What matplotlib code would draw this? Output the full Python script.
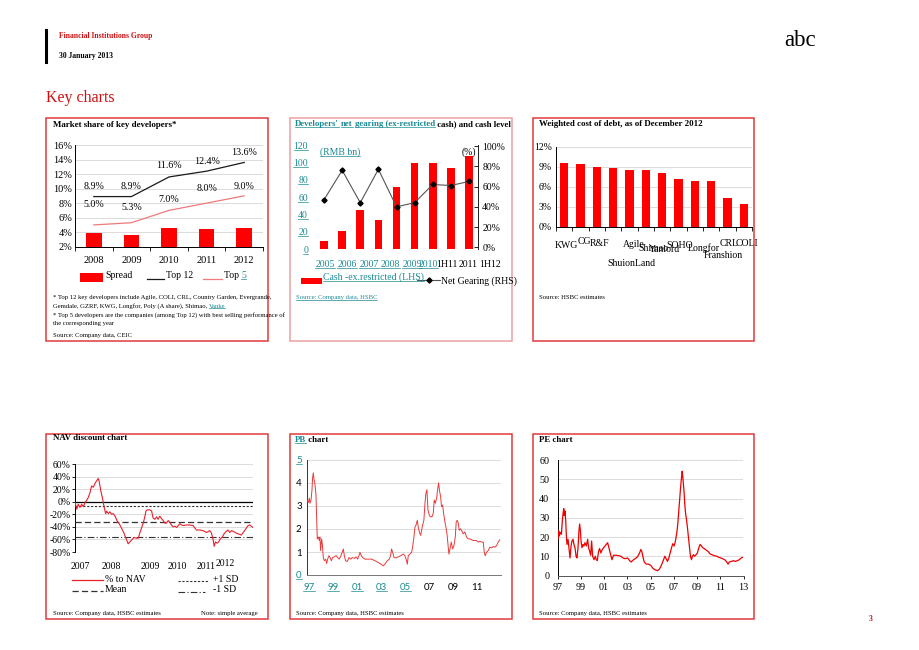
import numpy as np
import matplotlib
matplotlib.use('Agg')
import matplotlib.pyplot as plt
from matplotlib.lines import Line2D
from matplotlib.patches import Rectangle
from matplotlib import transforms

# ---------------- data ----------------
ms_years = ['2008', '2009', '2010', '2011', '2012']
ms_spread = [3.9, 3.6, 4.6, 4.4, 4.6]
ms_top12 = [8.9, 8.9, 11.6, 12.4, 13.6]
ms_top5 = [5.0, 5.3, 7.0, 8.0, 9.0]

ng_periods = ['2005', '2006', '2007', '2008', '2009', '2010', '1H11', '2011', '1H12']
ng_cash = [10, 21, 45, 34, 72, 100, 100, 94, 108]
ng_gearing = [47, 76, 44, 77, 40, 44, 62, 61, 65]

cd_companies = ['KWG', 'CG', 'R&F', 'ShuionLand', 'Agile', 'Shimao', 'Yanlord',
                'SOHO', 'Longfor', 'Franshion', 'CRL', 'COLI']
cd_values = [9.5, 9.35, 8.95, 8.8, 8.5, 8.5, 8.1, 7.2, 6.8, 6.8, 4.3, 3.35]

nav_month = [0, 0.7, 1.3, 2.0, 2.7, 3.4, 4.0, 4.7, 5.4, 6.1, 6.7, 7.4, 8.1, 8.7, 9.4, 9.8,
             10.4, 11.2, 11.8, 12.4, 12.8, 13.5, 14.1, 14.8, 15.5, 16.2, 17.1, 17.9, 18.8,
             19.8, 20.6, 21.5, 22.2, 22.9, 23.8, 24.9, 25.6, 26.2, 26.9, 27.6, 28.3, 28.7,
             29.2, 30.3, 31.0, 31.6, 32.3, 33.0, 33.6, 34.3, 35.0, 35.7, 36.3, 37.0, 37.7,
             38.4, 39.0, 39.7, 40.4, 41.1, 41.7, 42.4, 43.1, 43.7, 45.1, 46.4, 47.8, 48.5,
             49.1, 50.5, 51.8, 53.2, 54.5, 55.2, 55.9, 56.3, 56.8, 57.5, 58.1, 58.8, 59.6,
             60.3, 61.2, 61.9, 62.6, 63.3, 63.9, 65.3, 66.6, 67.3, 68.0, 68.6, 69.3, 70.0,
             70.7, 71.3, 72.0]
nav_pct = [-1, -12, -4, -9, -4, -8, -2, 2, 7, 15, 25, 23, 29, 33, 37, 32,
           18, 4, -9, -19, -15, -19, -16, -20, -19, -23, -31, -35, -42,
           -50, -58, -67, -64, -61, -57, -58, -58, -50, -42, -34, -23, -15,
           -13, -13, -15, -26, -28, -24, -28, -23, -27, -30, -34, -34, -30,
           -33, -37, -40, -39, -41, -38, -35, -37, -38, -37, -37, -38, -42,
           -45, -45, -46, -49, -46, -50, -61, -71, -64, -66, -64, -59, -56,
           -51, -47, -45, -49, -46, -47, -50, -52, -53, -49, -46, -42, -38,
           -37, -39, -41]
nav_mean = -32
nav_plus_sd = -7.5
nav_minus_sd = -56.5
nav_tick_labels = ['2007', '2008', '2009', '2010', '2011', '2012']
nav_tick_month = [2.0, 14.8, 30.3, 41.3, 52.9, 60.6]

pb_year = [1996.86, 1996.94, 1997.03, 1997.08, 1997.17, 1997.25, 1997.30, 1997.36, 1997.42,
           1997.50, 1997.58, 1997.64, 1997.69, 1997.78, 1997.86, 1997.91, 1997.97, 1998.05,
           1998.11, 1998.19, 1998.28, 1998.39, 1998.47, 1998.55, 1998.66, 1998.75, 1998.86,
           1998.97, 1999.11, 1999.25, 1999.38, 1999.52, 1999.66, 1999.77, 1999.86, 1999.94,
           2000.05, 2000.19, 2000.33, 2000.47, 2000.60, 2000.77, 2000.91, 2001.05, 2001.16,
           2001.24, 2001.35, 2001.46, 2001.66, 2001.93, 2002.21, 2002.49, 2002.77, 2002.99,
           2003.18, 2003.32, 2003.51, 2003.68, 2003.79, 2003.87, 2003.96, 2004.07, 2004.23,
           2004.43, 2004.65, 2004.84, 2004.98, 2005.12, 2005.18, 2005.26, 2005.40, 2005.54,
           2005.62, 2005.73, 2005.82, 2005.90, 2006.01, 2006.09, 2006.18, 2006.29, 2006.37,
           2006.45, 2006.56, 2006.65, 2006.73, 2006.81, 2006.90, 2007.01, 2007.12, 2007.23,
           2007.34, 2007.42, 2007.51, 2007.62, 2007.70, 2007.78, 2007.87, 2007.95, 2008.03,
           2008.12, 2008.20, 2008.31, 2008.39, 2008.48, 2008.56, 2008.64, 2008.73, 2008.84,
           2008.95, 2009.06, 2009.17, 2009.25, 2009.34, 2009.42, 2009.50, 2009.61, 2009.72,
           2009.83, 2009.97, 2010.11, 2010.25, 2010.39, 2010.53, 2010.67, 2010.81, 2010.94,
           2011.08, 2011.22, 2011.36, 2011.50, 2011.58, 2011.66, 2011.77, 2011.91, 2012.05,
           2012.19, 2012.33, 2012.47, 2012.61, 2012.74, 2012.88]
pb_value = [3.26, 3.15, 3.34, 3.12, 3.26, 3.70, 4.22, 4.44, 4.15,
            3.93, 3.49, 2.38, 1.57, 1.65, 1.50, 1.65, 1.06, 1.57,
            1.35, 0.76, 0.62, 0.69, 0.50, 0.69, 0.84, 0.76, 0.62,
            0.76, 0.79, 0.84, 0.76, 0.69, 0.84, 0.99, 1.13, 0.84,
            0.62, 0.59, 0.76, 0.69, 0.76, 0.72, 0.79, 0.69, 0.84,
            0.99, 0.84, 0.76, 0.69, 0.69, 0.69, 0.62, 0.54, 0.47,
            0.40, 0.47, 0.62, 0.69, 0.84, 1.13, 0.99, 0.76, 0.74,
            0.79, 0.84, 0.91, 0.84, 0.62, 0.47, 0.84, 0.91, 0.99,
            1.21, 1.65, 2.09, 2.16, 2.38, 2.09, 1.87, 1.72, 1.94,
            2.16, 2.38, 3.12, 3.56, 3.71, 2.82, 2.60, 2.53, 2.53,
            2.68, 3.26, 3.12, 3.34, 3.71, 4.00, 3.63, 3.41, 2.97,
            3.04, 2.68, 2.31, 2.09, 1.79, 1.35, 0.91, 1.13, 1.43,
            1.13, 1.28, 1.65, 2.31, 2.38, 2.25, 1.94, 2.01, 1.91,
            1.79, 1.87, 1.65, 1.57, 1.57, 1.53, 1.50, 1.50, 1.50,
            1.43, 1.47, 1.43, 1.43, 0.99, 0.84, 0.99, 1.06, 1.21,
            1.18, 1.24, 1.21, 1.28, 1.43, 1.53]
pb_tick_labels = ['97', '99', '01', '03', '05', '07', '09', '11']
pb_tick_years = [1997, 1999, 2001, 2003, 2005, 2007, 2009, 2011]

pe_year = [1997.03, 1997.09, 1997.14, 1997.23, 1997.32, 1997.40, 1997.46, 1997.52, 1997.57,
           1997.63, 1997.69, 1997.74, 1997.80, 1997.89, 1997.97, 1998.06, 1998.15, 1998.23,
           1998.32, 1998.40, 1998.49, 1998.58, 1998.66, 1998.75, 1998.83, 1998.89, 1998.95,
           1999.01, 1999.09, 1999.18, 1999.26, 1999.35, 1999.46, 1999.58, 1999.66, 1999.75,
           1999.84, 1999.92, 2000.01, 2000.12, 2000.24, 2000.32, 2000.41, 2000.52, 2000.61,
           2000.72, 2000.84, 2000.95, 2001.07, 2001.18, 2001.30, 2001.41, 2001.53, 2001.67,
           2001.81, 2002.04, 2002.24, 2002.44, 2002.62, 2002.82, 2003.02, 2003.19, 2003.33,
           2003.53, 2003.76, 2003.90, 2004.05, 2004.16, 2004.25, 2004.33, 2004.45, 2004.62,
           2004.82, 2005.02, 2005.19, 2005.39, 2005.60, 2005.77, 2005.88, 2006.00, 2006.11,
           2006.23, 2006.34, 2006.45, 2006.57, 2006.68, 2006.80, 2006.91, 2007.03, 2007.14,
           2007.26, 2007.34, 2007.43, 2007.49, 2007.54, 2007.60, 2007.66, 2007.72, 2007.77,
           2007.83, 2007.89, 2007.94, 2008.00, 2008.06, 2008.12, 2008.17, 2008.26, 2008.35,
           2008.43, 2008.52, 2008.60, 2008.69, 2008.80, 2008.92, 2009.03, 2009.15, 2009.26,
           2009.38, 2009.49, 2009.61, 2009.72, 2009.84, 2009.98, 2010.12, 2010.27, 2010.47,
           2010.70, 2010.87, 2011.04, 2011.21, 2011.38, 2011.56, 2011.67, 2011.78, 2011.96,
           2012.13, 2012.30, 2012.47, 2012.64, 2012.81, 2012.93]
pe_value = [18.9, 23.3, 20.6, 22.4, 21.5, 28.6, 32.1, 34.8, 31.2,
            33.5, 28.6, 21.5, 16.2, 18.9, 14.5, 9.2, 15.4, 18.0,
            18.9, 16.2, 14.5, 10.1, 9.2, 14.5, 23.3, 26.8, 23.6,
            18.0, 14.5, 16.2, 15.4, 17.1, 15.4, 18.9, 14.5, 12.7,
            10.6, 18.0, 10.1, 8.3, 10.1, 8.3, 7.8, 12.7, 14.1,
            11.8, 13.6, 14.5, 15.4, 16.2, 17.1, 14.5, 11.8, 8.3,
            10.6, 10.6, 10.4, 10.1, 9.2, 8.8, 9.2, 7.8, 7.1,
            8.3, 9.2, 10.1, 11.8, 13.6, 12.4, 10.1, 7.1, 6.0,
            6.0, 5.3, 3.9, 3.0, 2.6, 3.5, 4.8, 6.5, 8.3,
            10.1, 8.8, 7.4, 9.2, 11.8, 14.5, 16.6, 15.4, 18.0,
            22.4, 26.8, 33.9, 39.2, 42.7, 47.1, 50.6, 54.2, 51.5,
            47.1, 42.7, 37.4, 33.0, 30.4, 27.7, 25.1, 19.8, 14.5,
            10.1, 8.3, 10.1, 10.9, 10.1, 10.9, 11.8, 14.5, 16.2,
            15.4, 14.5, 14.1, 13.6, 13.1, 12.4, 11.3, 10.9, 10.4,
            10.1, 9.5, 9.2, 8.8, 8.3, 7.1, 6.0, 7.1, 7.4,
            7.8, 7.4, 7.8, 8.3, 9.2, 9.5]
pe_tick_labels = ['97', '99', '01', '03', '05', '07', '09', '11', '13']
pe_tick_years = [1997, 1999, 2001, 2003, 2005, 2007, 2009, 2011, 2013]

# ---------------- styling ----------------
W, H = 920, 650
SERIF = 'Liberation Serif'
SANS = 'Lato'
RED = '#ff0000'
TEAL = '#1b8a93'
BORDER = '#e03a3a'
BORDER_LIGHT = '#eaa0a0'
GRID = '#d6d6d6'
TITLE_SIZE = 6.4
NOTE_SIZE = 4.75

plt.rcParams['font.family'] = SERIF
plt.rcParams['axes.linewidth'] = 0.7

fig = plt.figure(figsize=(9.2, 6.5), dpi=100)
renderer = fig.canvas.get_renderer()
underlines = []


def add_ax(x0, y0, x1, y1):
    return fig.add_axes([x0 / W, 1 - y1 / H, (x1 - x0) / W, (y1 - y0) / H])


def frame(x0, y0, x1, y1, color=BORDER):
    fig.add_artist(Rectangle((x0 / W, 1 - y1 / H), (x1 - x0) / W, (y1 - y0) / H,
                             transform=fig.transFigure, fill=False,
                             edgecolor=color, lw=1.1))


def ftext(x, y, s, size, color='black', weight='normal', ha='left', va='center',
          ul=False, family=SERIF):
    t = fig.text(x / W, 1 - y / H, s, fontsize=size, color=color, weight=weight,
                 ha=ha, va=va, family=family)
    if ul:
        underlines.append((t, color))
    return t


def rich(x, y, pieces, size, weight='bold'):
    for s, color, ul in pieces:
        t = ftext(x, y, s, size, color, weight, ul=ul)
        bb = t.get_window_extent(renderer)
        x += bb.width


def fline(x0, x1, y, **kw):
    fig.add_artist(Line2D([x0 / W, x1 / W], [1 - y / H, 1 - y / H],
                          transform=fig.transFigure, **kw))


def fbox(x0, y0, x1, y1, color):
    fig.add_artist(Rectangle((x0 / W, 1 - y1 / H), (x1 - x0) / W, (y1 - y0) / H,
                             transform=fig.transFigure, facecolor=color, edgecolor='none'))


# ---------------- header ----------------
fig.add_artist(Line2D([46 / W, 46 / W], [1 - 30 / H, 1 - 62 / H], transform=fig.transFigure,
                      color='black', lw=2.2))
ftext(59, 36, 'Financial Institutions Group', 5.5, color='#d01010', weight='bold')
ftext(59, 56, '30 January 2013', 5.5, weight='bold')
ftext(46, 98, 'Key charts', 11.5, color='#d01010')
ftext(800, 40, 'abc', 16.5, ha='center')
ftext(871, 619, '3', 5.5, color='#d01010', weight='bold', ha='center')

# panel frames
frame(46.5, 117.5, 268.5, 341)
frame(290.5, 117.5, 512, 341, BORDER_LIGHT)
frame(533, 117.5, 754, 341)
frame(46.5, 433.5, 268.5, 619)
frame(290.5, 433.5, 512, 619)
frame(533, 433.5, 754, 619)

# ---------------- panel 1: market share ----------------
ftext(53, 125, 'Market share of key developers*', TITLE_SIZE, weight='bold')
ax1 = add_ax(75, 145, 263, 246.7)
x = np.arange(len(ms_years))
ax1.bar(x, ms_spread, width=0.42, color=RED, zorder=2)
ax1.plot(x, ms_top12, color='#1a1a1a', lw=0.9, zorder=3)
ax1.plot(x, ms_top5, color='#f07a7a', lw=0.9, zorder=3)
ax1.set_xlim(-0.5, len(ms_years) - 0.5)
ax1.set_ylim(2, 16)
ax1.set_yticks(range(2, 17, 2))
ax1.set_yticklabels([f'{v}%' for v in range(2, 17, 2)])
ax1.set_xticks(x)
ax1.set_xticklabels(ms_years)
ax1.set_xticks(np.arange(-0.5, len(ms_years)), minor=True)
ax1.tick_params(axis='x', which='major', length=0, labelsize=7.5, pad=7)
ax1.tick_params(axis='x', which='minor', length=3, direction='out', width=0.6)
ax1.tick_params(axis='y', length=0, labelsize=7.5, pad=2)
ax1.yaxis.grid(True, color=GRID, lw=0.6)
ax1.set_axisbelow(True)
for s in ['top', 'right']:
    ax1.spines[s].set_visible(False)
top12_dy = [10, 10, 11, 10, 10]
top5_dy = [20, 15, 11, 15, 9]
for i in range(len(ms_years)):
    ax1.annotate(f'{ms_top12[i]:.1f}%', (x[i], ms_top12[i]), xytext=(0, top12_dy[i] * 0.72),
                 textcoords='offset points', ha='center', va='center', fontsize=7.2)
    ax1.annotate(f'{ms_top5[i]:.1f}%', (x[i], ms_top5[i]), xytext=(0, top5_dy[i] * 0.72),
                 textcoords='offset points', ha='center', va='center', fontsize=7.2)
# legend
fbox(80, 273, 103, 282, RED)
ftext(105, 276, 'Spread', 7)
fline(147, 164, 279, color='#1a1a1a', lw=0.9)
ftext(166, 276, 'Top 12', 7)
fline(203, 222, 279, color='#f07a7a', lw=0.9)
rich(224, 276, [('Top ', 'black', False), ('5', TEAL, True)], 7, weight='normal')
# footnotes
ftext(53, 298, '* Top 12 key developers include Agile, COLI, CRL, Country Garden, Evergrande,', NOTE_SIZE)
rich(53, 306.5, [('Gemdale, GZRF, KWG, Longfor, Poly (A share), Shimao, ', 'black', False),
                 ('Vanke', TEAL, True)], NOTE_SIZE, weight='normal')
ftext(53, 315, '* Top 5 developers are the companies (among Top 12) with best selling performance of', NOTE_SIZE)
ftext(53, 323.5, 'the corresponding year', NOTE_SIZE)
ftext(53, 335.5, 'Source: Company data, CEIC', NOTE_SIZE)

# ---------------- panel 2: net gearing ----------------
rich(295, 124, [("Developers'", TEAL, True), (' ', 'black', False), ('net', TEAL, True),
                (' ', 'black', False), ('gearing (ex-restricted', TEAL, True),
                (' cash) and cash level', 'black', False)], 6.3)
ax2 = add_ax(315, 145.3, 478, 249.3)
xg = np.arange(len(ng_periods))
ax2.bar(xg, ng_cash, width=0.42, color=RED, zorder=2)
ax2.set_xlim(-0.5, len(ng_periods) - 0.5)
ax2.set_ylim(0, 120)
ax2.set_yticks(range(0, 121, 20))
ax2.set_yticklabels([str(v) for v in range(0, 121, 20)], color=TEAL)
ax2.tick_params(axis='y', length=0, labelsize=7, pad=5)
ax2.set_xticks([])
for s in ['top', 'right', 'left', 'bottom']:
    ax2.spines[s].set_visible(False)
ax2r = ax2.twinx()
ax2r.plot(xg, ng_gearing, color='#555555', lw=0.8, marker='D', markersize=2.6,
          markerfacecolor='black', markeredgecolor='black', zorder=4)
ax2r.set_ylim(-2, 100.7)
ax2r.set_yticks(range(0, 101, 20))
ax2r.set_yticklabels([f'{v}%' for v in range(0, 101, 20)])
ax2r.tick_params(axis='y', length=3, direction='in', labelsize=7, pad=3, width=0.6)
for s in ['top', 'left', 'bottom']:
    ax2r.spines[s].set_visible(False)
ax2r.spines['right'].set_color('#222222')
ng_label_pos = [0.05, 1.27, 2.48, 3.65, 4.85, 5.76, 6.78, 7.97, 9.17]
tr2 = transforms.blended_transform_factory(ax2.transData, ax2.transAxes)
for i, lab in enumerate(ng_periods):
    col = TEAL if lab.isdigit() and lab != '2011' else 'black'
    t = ax2.text(ng_label_pos[i], -0.15, lab, transform=tr2, ha='center', va='center',
                 fontsize=7, color=col, clip_on=False)
    if col == TEAL:
        underlines.append((t, TEAL))
ftext(320, 152, '(RMB bn)', 7, color=TEAL, ul=True)
ftext(462, 152, '(%)', 7)
fbox(301, 278, 322, 284, RED)
ftext(323, 277, 'Cash -ex.restricted (LHS)', 7, color=TEAL, ul=True)
fline(417, 440, 280, color='#555555', lw=0.8)
fig.add_artist(Line2D([429 / W], [1 - 280 / H], marker='D', markersize=2.6, color='black',
                      transform=fig.transFigure))
ftext(441, 281.5, 'Net Gearing (RHS)', 7)
ftext(296, 298, 'Source: Company data, HSBC', NOTE_SIZE, color=TEAL, ul=True)

# ---------------- panel 3: cost of debt ----------------
ftext(539, 124, 'Weighted cost of debt, as of December 2012', TITLE_SIZE, weight='bold')
ax3 = add_ax(556, 146.7, 752, 226.7)
xc = np.arange(len(cd_companies))
ax3.bar(xc, cd_values, width=0.5, color=RED, zorder=2)
ax3.set_xlim(-0.5, len(cd_companies) - 0.5)
ax3.set_ylim(0, 12)
ax3.set_yticks(range(0, 13, 3))
ax3.set_yticklabels([f'{v}%' for v in range(0, 13, 3)])
ax3.tick_params(axis='y', length=0, labelsize=7, pad=3)
ax3.set_xticks([])
ax3.set_xticks(np.arange(-0.5, len(cd_companies)), minor=True)
ax3.tick_params(axis='x', which='minor', length=3, direction='out', width=0.6)
ax3.yaxis.grid(True, color=GRID, lw=0.6)
ax3.set_axisbelow(True)
for s in ['top', 'right']:
    ax3.spines[s].set_visible(False)
cd_label_dx = [2.5, 3.5, 3, 18.5, 4.5, 8, 2, 1, 8.5, 12, 2, 3]
cd_label_dy = [18.3, 14.3, 16.6, 37.3, 17.6, 21.6, 22.6, 18.3, 21.6, 29, 16.6, 16.6]
tr3 = transforms.blended_transform_factory(ax3.transData, ax3.transAxes)
for i, lab in enumerate(cd_companies):
    off = transforms.offset_copy(tr3, fig=fig, x=cd_label_dx[i] * 0.72,
                                 y=-cd_label_dy[i] * 0.72, units='points')
    ax3.text(xc[i], 0, lab, transform=off, ha='center', va='center', fontsize=7,
             clip_on=False)
ftext(539, 297, 'Source: HSBC estimates', NOTE_SIZE)

# ---------------- panel 4: NAV discount ----------------
ftext(53, 438, 'NAV discount chart', TITLE_SIZE, weight='bold')
ax4 = add_ax(75, 464, 253, 552)
ax4.plot(nav_month, nav_pct, color='#e8202a', lw=0.8, zorder=4)
ax4.axhline(0, color='black', lw=0.9, zorder=3)
ax4.axhline(nav_plus_sd, color='#333333', lw=0.8, ls=(0, (2, 1.5)), zorder=3)
ax4.axhline(nav_mean, color='#333333', lw=0.9, ls=(0, (5, 2.5)), zorder=3)
ax4.axhline(nav_minus_sd, color='#333333', lw=0.8, ls=(0, (6, 2, 1, 2)), zorder=3)
ax4.set_xlim(0, 72)
ax4.set_ylim(-80, 60)
ax4.set_yticks(range(-80, 61, 20))
ax4.set_yticklabels([f'{v}%' for v in range(-80, 61, 20)])
ax4.tick_params(axis='y', length=2, labelsize=7, pad=1, width=0.6)
ax4.set_xticks([])
ax4.yaxis.grid(True, color=GRID, lw=0.6)
ax4.set_axisbelow(True)
for s in ['top', 'right', 'bottom']:
    ax4.spines[s].set_visible(False)
tr4 = transforms.blended_transform_factory(ax4.transData, ax4.transAxes)
for i, lab in enumerate(nav_tick_labels):
    yy = -0.167 if lab != '2012' else -0.13
    ax4.text(nav_tick_month[i], yy, lab, transform=tr4, ha='center', va='center',
             fontsize=7, clip_on=False)
fline(72, 103, 580, color='#e8202a', lw=0.9)
ftext(105, 579, '% to NAV', 7)
fline(72, 103, 591, color='#333333', lw=0.9, ls=(0, (5, 2.5)))
ftext(105, 590, 'Mean', 7)
fline(178, 208, 581, color='#333333', lw=0.8, ls=(0, (2, 1.5)))
ftext(213, 579, '+1 SD', 7)
fline(178, 205, 592, color='#333333', lw=0.8, ls=(0, (6, 2, 1, 2)))
ftext(213, 590, '-1 SD', 7)
ftext(53, 613, 'Source: Company data, HSBC estimates', NOTE_SIZE)
ftext(258, 613, 'Note: simple average', NOTE_SIZE, ha='right')

# ---------------- panel 5: PB ----------------
rich(295, 440, [('PB', TEAL, True), (' chart', 'black', False)], TITLE_SIZE)
ax5 = add_ax(307.3, 460, 500.7, 575)
ax5.plot(pb_year, pb_value, color='#e83a3a', lw=0.7, zorder=3)
ax5.set_xlim(1996.86, 2012.95)
ax5.set_ylim(0, 5)
ax5.set_yticks(range(0, 6))
ax5.set_yticklabels([str(v) for v in range(0, 6)], family=SANS)
ax5.set_xticks(pb_tick_years)
ax5.set_xticklabels(pb_tick_labels, family=SANS)
ax5.tick_params(axis='y', length=0, labelsize=7, pad=4)
ax5.tick_params(axis='x', length=0, labelsize=7, pad=6)
ax5.yaxis.grid(True, color=GRID, lw=0.6)
ax5.set_axisbelow(True)
for s in ['top', 'right']:
    ax5.spines[s].set_visible(False)
ax5.spines['left'].set_color('#333333')
ax5.spines['bottom'].set_color('#777777')
ftext(296, 613, 'Source: Company data, HSBC estimates', NOTE_SIZE)

# ---------------- panel 6: PE ----------------
ftext(539, 440, 'PE chart', TITLE_SIZE, weight='bold')
ax6 = add_ax(557.7, 460, 743.5, 575.7)
ax6.plot(pe_year, pe_value, color='#ee0000', lw=0.9, zorder=3)
ax6.set_xlim(1997, 2013)
ax6.set_ylim(0, 60)
ax6.set_yticks(range(0, 61, 10))
ax6.set_xticks(pe_tick_years)
ax6.set_xticklabels(pe_tick_labels)
ax6.tick_params(axis='y', length=0, labelsize=7.3, pad=6)
ax6.tick_params(axis='x', length=2.5, labelsize=7.3, pad=3, width=0.6)
ax6.yaxis.grid(True, color=GRID, lw=0.6)
ax6.set_axisbelow(True)
for s in ['top', 'right']:
    ax6.spines[s].set_visible(False)
ax6.spines['bottom'].set_color('#555555')
ftext(539, 614, 'Source: Company data, HSBC estimates', NOTE_SIZE)

# ---------------- teal tick labels + underlines ----------------
fig.canvas.draw()
for lab in ax5.get_xticklabels():
    if lab.get_text() in ('97', '99', '01', '03', '05'):
        lab.set_color(TEAL)
        underlines.append((lab, TEAL))
for lab in ax5.get_yticklabels():
    if lab.get_text() in ('0', '5'):
        lab.set_color(TEAL)
        underlines.append((lab, TEAL))
for lab in ax2.get_yticklabels():
    underlines.append((lab, TEAL))
fig.canvas.draw()
renderer = fig.canvas.get_renderer()
for t, c in underlines:
    bb = t.get_window_extent(renderer)
    yb = bb.y0 + bb.height * 0.12
    fig.add_artist(Line2D([bb.x0 / W, bb.x1 / W], [yb / H, yb / H], color=c, lw=0.5,
                          transform=fig.transFigure))

fig.savefig('out.png', dpi=100)
